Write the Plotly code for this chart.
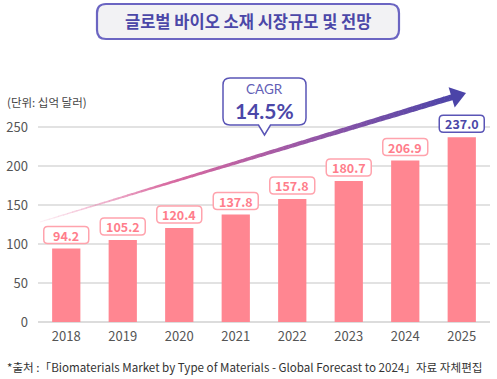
import plotly.graph_objects as go
import numpy as np

# ---------------- data ----------------
years = [2018, 2019, 2020, 2021, 2022, 2023, 2024, 2025]
values = [94.2, 105.2, 120.4, 137.8, 157.8, 180.7, 206.9, 237.0]
value_labels = [f"{v:.1f}" for v in values]
y_ticks = [0, 50, 100, 150, 200, 250]
title_text = "글로벌 바이오 소재 시장규모 및 전망"
unit_text = "(단위: 십억 달러)"
cagr_title = "CAGR"
cagr_value = "14.5%"
source_text = "*출처 :「Biomaterials Market by Type of Materials - Global Forecast to 2024」자료 자체편집"

# ---------------- layout geometry ----------------
W, H = 497, 379
ML, MR, MT, MB = 38, 7, 88, 57
PW = W - ML - MR
PH = H - MT - MB
FONT = "Noto Sans CJK KR"
LATIN = "Lato"
PINK = "#ff8691"
PINK_TXT = "#ff7d8b"
PINK_BORDER = "#ffa3ad"
PURPLE = "#4b47a8"
PURPLE_BORDER = "#5a55b6"


def ox(x):
    return x - ML


def oy(y):
    return (H - MB) - y


def to_paper(x, y):
    return (x - ML) / PW, ((H - MB) - y) / PH


def rr_path(x0, y0, x1, y1, r, f, notch=None):
    """rounded rect in screen coords (y down); f maps to shape offsets"""
    P = lambda x, y: "{:.2f},{:.2f}".format(*f(x, y))
    s = f"M{P(x0 + r, y0)} L{P(x1 - r, y0)} Q{P(x1, y0)} {P(x1, y0 + r)} "
    s += f"L{P(x1, y1 - r)} Q{P(x1, y1)} {P(x1 - r, y1)} "
    if notch is not None:
        nx, nw, nh = notch
        s += f"L{P(nx + nw, y1)} L{P(nx, y1 + nh)} L{P(nx - nw, y1)} "
    s += f"L{P(x0 + r, y1)} Q{P(x0, y1)} {P(x0, y1 - r)} "
    s += f"L{P(x0, y0 + r)} Q{P(x0, y0)} {P(x0 + r, y0)} Z"
    return s


abs_map = lambda x, y: (ox(x), oy(y))
rel_map = lambda x, y: (x, -y)


def px_shape(path, **kw):
    d = dict(type="path", xref="paper", yref="paper", xsizemode="pixel",
             ysizemode="pixel", xanchor=0, yanchor=0, path=path, layer="above")
    d.update(kw)
    return d


shapes = []
annotations = []

# title box
shapes.append(px_shape(rr_path(97, 4, 399, 39, 9, abs_map),
                       fillcolor="#f2f2f4", line=dict(color="#6b65c2", width=2.2)))
tx, ty = to_paper(248, 21.5)
annotations.append(dict(x=tx, y=ty, xref="paper", yref="paper", text=title_text,
                        showarrow=False, xanchor="center", yanchor="middle",
                        font=dict(family=FONT, size=16.5, color=PURPLE, weight="bold")))

# unit label
ux, uy = to_paper(5, 102)
annotations.append(dict(x=ux, y=uy, xref="paper", yref="paper", text=unit_text,
                        showarrow=False, xanchor="left", yanchor="middle",
                        font=dict(family=FONT, size=11.5, color="#444444")))

# source
sx, sy = to_paper(5, 367)
annotations.append(dict(x=sx, y=sy, xref="paper", yref="paper", text=source_text,
                        showarrow=False, xanchor="left", yanchor="middle",
                        font=dict(family=FONT, size=11.6, color="#333333")))

# ---------------- gradient arrow (decoration) ----------------
S = np.array([40.0, 222.0])
T = np.array([466.0, 93.0])
u = (T - S) / np.linalg.norm(T - S)
n = np.array([-u[1], u[0]])
head_len, head_half = 15.0, 10.5
B = T - head_len * u
E = T - (head_len - 2) * u
stops_t = [0.0, 0.35, 0.65, 1.0]
stops_c = [(240, 140, 178), (212, 104, 160), (150, 86, 166), (76, 68, 168)]


def col(t):
    for i in range(len(stops_t) - 1):
        if t <= stops_t[i + 1]:
            k = (t - stops_t[i]) / (stops_t[i + 1] - stops_t[i])
            return tuple(int(round(stops_c[i][j] + k * (stops_c[i + 1][j] - stops_c[i][j]))) for j in range(3))
    return stops_c[-1]


N = 90
L = np.linalg.norm(E - S)
for i in range(N):
    t0, t1 = i / N, (i + 1) / N
    t1e = min(1.0, t1 + 0.4 / L)
    p0 = S + (E - S) * t0
    p1 = S + (E - S) * t1e
    w0 = (1.0 + 5.0 * t0) / 2
    w1 = (1.0 + 5.0 * t1) / 2
    pts = [p0 + w0 * n, p1 + w1 * n, p1 - w1 * n, p0 - w0 * n]
    tm = (t0 + t1) / 2
    c = col(tm)
    a = 0.12 + 0.88 * min(1.0, tm / 0.3)
    rgba = f"rgba({c[0]},{c[1]},{c[2]},{a:.3f})"
    path = "M" + " L".join(f"{ox(p[0]):.2f},{oy(p[1]):.2f}" for p in pts) + " Z"
    shapes.append(px_shape(path, fillcolor=rgba, line=dict(width=0)))

h1 = B + head_half * n
h2 = B - head_half * n
path = "M" + " L".join(f"{ox(p[0]):.2f},{oy(p[1]):.2f}" for p in [T, h1, h2]) + " Z"
shapes.append(px_shape(path, fillcolor="#4b44a8", line=dict(width=0)))

# ---------------- CAGR callout ----------------
shapes.append(px_shape(rr_path(223, 78, 306, 125, 7, abs_map, notch=(264.5, 6, 10)),
                       fillcolor="white", line=dict(color=PURPLE_BORDER, width=1.5)))
cx, cy = to_paper(264.5, 89)
annotations.append(dict(x=cx, y=cy, xref="paper", yref="paper", text=cagr_title,
                        showarrow=False, xanchor="center", yanchor="middle",
                        font=dict(family=LATIN, size=13.5, color="#6360b6")))
cx, cy = to_paper(264.5, 110)
annotations.append(dict(x=cx, y=cy, xref="paper", yref="paper", text=cagr_value,
                        showarrow=False, xanchor="center", yanchor="middle",
                        font=dict(family=LATIN, size=21, color=PURPLE, weight="bold")))

# ---------------- value label boxes ----------------
for i, (yr, v, lab) in enumerate(zip(years, values, value_labels)):
    last = i == len(years) - 1
    bc = PURPLE_BORDER if last else PINK_BORDER
    tc = PURPLE if last else PINK_TXT
    shapes.append(dict(type="path", xref="x", yref="y", xsizemode="pixel",
                       ysizemode="pixel", xanchor=yr, yanchor=v, layer="above",
                       path=rr_path(-22.5, -22, 22.5, -5, 4, rel_map),
                       fillcolor="white", line=dict(color=bc, width=1.5)))
    annotations.append(dict(x=yr, y=v, xref="x", yref="y", text=lab, yshift=13.5,
                            showarrow=False, xanchor="center", yanchor="middle",
                            font=dict(family=FONT, size=12.5, color=tc, weight="bold")))

fig = go.Figure()
fig.add_trace(go.Bar(x=years, y=values, width=0.5, marker=dict(color=PINK, line=dict(width=0)),
                     hoverinfo="skip"))

fig.update_layout(
    width=W, height=H, autosize=False,
    margin=dict(l=ML, r=MR, t=MT, b=MB, pad=0),
    paper_bgcolor="white", plot_bgcolor="white",
    showlegend=False,
    shapes=shapes, annotations=annotations,
    font=dict(family=FONT),
    xaxis=dict(range=[2017.5, 2025.5], tickmode="array", tickvals=years,
               ticktext=[str(y) for y in years], showgrid=False, zeroline=False,
               showline=False, ticks="", ticklabelstandoff=5,
               tickfont=dict(family=FONT, size=13, color="#555555"), fixedrange=True),
    yaxis=dict(range=[0, 300], tickmode="array", tickvals=y_ticks,
               showgrid=True, gridcolor="#e2e2e2", gridwidth=1.5,
               zeroline=True, zerolinecolor="#dcdcdc", zerolinewidth=1.5,
               showline=False, ticks="", ticklabelstandoff=9,
               tickfont=dict(family=FONT, size=13, color="#555555"), fixedrange=True),
)

fig.write_html("out.html", config={"displayModeBar": False},
               post_script="document.body.style.margin='0';document.body.style.overflow='hidden';")
